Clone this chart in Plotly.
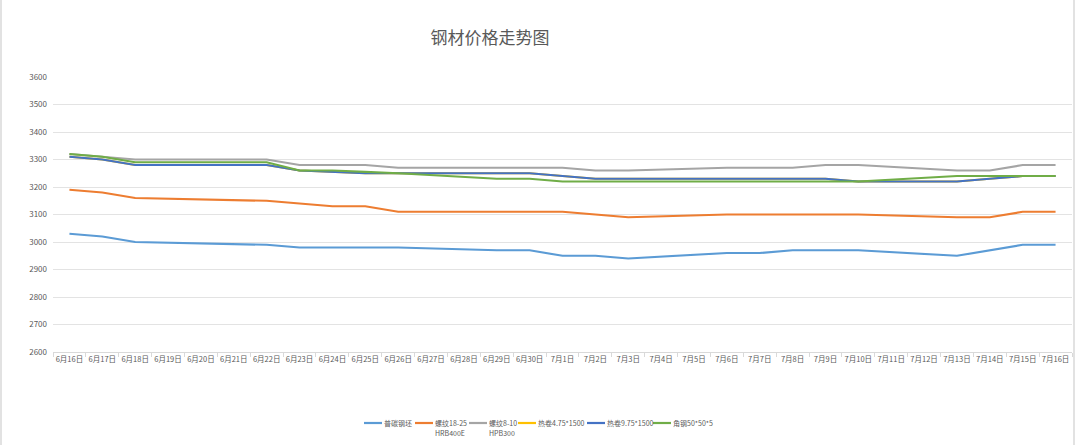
import plotly.graph_objects as go

dates = ["6月16日", "6月17日", "6月18日", "6月19日", "6月20日", "6月21日", "6月22日",
         "6月23日", "6月24日", "6月25日", "6月26日", "6月27日", "6月28日", "6月29日",
         "6月30日", "7月1日", "7月2日", "7月3日", "7月4日", "7月5日", "7月6日",
         "7月7日", "7月8日", "7月9日", "7月10日", "7月11日", "7月12日", "7月13日",
         "7月14日", "7月15日", "7月16日"]

billet = [3030, 3020, 3000, None, None, None, 2990, 2980, 2980, 2980, 2980, None, None,
          2970, 2970, 2950, 2950, 2940, None, None, 2960, 2960, 2970, 2970, 2970, None, None,
          2950, 2970, 2990, 2990]
rebar_18_25 = [3190, 3180, 3160, None, None, None, 3150, 3140, 3130, 3130, 3110, None, None,
               3110, 3110, 3110, 3100, 3090, None, None, 3100, 3100, 3100, 3100, 3100, None, None,
               3090, 3090, 3110, 3110]
rebar_8_10 = [3320, 3310, 3300, None, None, None, 3300, 3280, 3280, 3280, 3270, None, None,
              3270, 3270, 3270, 3260, 3260, None, None, 3270, 3270, 3270, 3280, 3280, None, None,
              3260, 3260, 3280, 3280]
coil_475 = [3310, 3300, 3280, None, None, None, 3280, 3260, 3255, 3250, 3250, None, None,
            3250, 3250, 3240, 3230, 3230, None, None, 3230, 3230, 3230, 3230, 3220, None, None,
            3220, 3230, 3240, 3240]
coil_975 = [3310, 3300, 3280, None, None, None, 3280, 3260, 3255, 3250, 3250, None, None,
            3250, 3250, 3240, 3230, 3230, None, None, 3230, 3230, 3230, 3230, 3220, None, None,
            3220, 3230, 3240, 3240]
angle = [3320, 3310, 3290, None, None, None, 3290, 3260, 3260, 3255, 3250, None, None,
         3230, 3230, 3220, 3220, 3220, None, None, 3220, 3220, 3220, 3220, 3220, None, None,
         3240, 3240, 3240, 3240]

series_names = ["普碳钢坯", "螺纹18-25", "螺纹8-10", "热卷4.75*1500", "热卷9.75*1500", "角钢50*50*5"]
series_subnames = ["", "HRB400E", "HPB300", "", "", ""]
series_values = [billet, rebar_18_25, rebar_8_10, coil_475, coil_975, angle]
series_colors = ["#5B9BD5", "#ED7D31", "#A5A5A5", "#FFC000", "#4472C4", "#70AD47"]

# layout geometry (pixels in the 1080x445 page)
W, H = 1080, 445
PL, PR, PT, PB = 53, 1072, 77, 352
legend_line_x = [364, 415, 469, 518, 587, 653]
legend_line_len = 18
legend_y = 423

def px_x(p):
    return (p - PL) / (PR - PL)

def px_y(p):
    return (PB - p) / (PB - PT)

font_family = "Noto Sans CJK SC, Noto Sans, sans-serif"
fig = go.Figure()
for name, sub, vals, color in zip(series_names, series_subnames, series_values, series_colors):
    full = name + (" " + sub if sub else "")
    fig.add_trace(go.Scatter(x=dates, y=vals, name=full, mode="lines",
                             connectgaps=True, showlegend=False,
                             line=dict(color=color, width=2.2)))

# custom legend (Excel style, compact)
for i, (name, sub, color) in enumerate(zip(series_names, series_subnames, series_colors)):
    x0 = legend_line_x[i]
    fig.add_shape(type="line", xref="paper", yref="paper",
                  x0=px_x(x0), x1=px_x(x0 + legend_line_len),
                  y0=px_y(legend_y), y1=px_y(legend_y),
                  line=dict(color=color, width=2.2))
    fig.add_annotation(xref="paper", yref="paper", x=px_x(x0 + legend_line_len + 1),
                       y=px_y(legend_y), xanchor="left", yanchor="middle",
                       text=name, showarrow=False, borderpad=0,
                       font=dict(size=7, color="#595959", family=font_family))
    if sub:
        fig.add_annotation(xref="paper", yref="paper", x=px_x(x0 + legend_line_len + 1),
                           y=px_y(legend_y + 10), xanchor="left", yanchor="middle",
                           text=sub, showarrow=False, borderpad=0,
                           font=dict(size=7, color="#595959", family=font_family))

fig.update_layout(
    width=W, height=H,
    margin=dict(l=PL, r=W - PR, t=PT, b=H - PB),
    paper_bgcolor="white", plot_bgcolor="white",
    font=dict(family=font_family, color="#595959", size=9),
    title=dict(text="钢材价格走势图", x=490 / W, xref="container", xanchor="center",
               y=1 - 38 / H, yref="container", yanchor="middle",
               font=dict(size=17, color="#595959", family=font_family)),
    showlegend=False,
)
fig.update_xaxes(type="category", range=[-0.5, 30.5], tickson="boundaries",
                 ticks="outside", ticklen=4, tickcolor="#d9d9d9",
                 showline=True, linecolor="#d9d9d9", linewidth=1,
                 showgrid=False, tickfont=dict(size=7.5, color="#595959"),
                 tickangle=0)
fig.update_yaxes(range=[2600, 3600], dtick=100, showgrid=True, gridcolor="#e3e3e3",
                 gridwidth=1, zeroline=False, showline=False, ticks="",
                 tickfont=dict(size=8, color="#595959"), ticklabelstandoff=5)

# chart-area borders
for bx in (1, 1074):
    fig.add_shape(type="line", xref="paper", yref="paper",
                  x0=px_x(bx), x1=px_x(bx), y0=px_y(H), y1=px_y(0),
                  line=dict(color="#d9d9d9", width=1.5))

fig.write_html("out.html")
